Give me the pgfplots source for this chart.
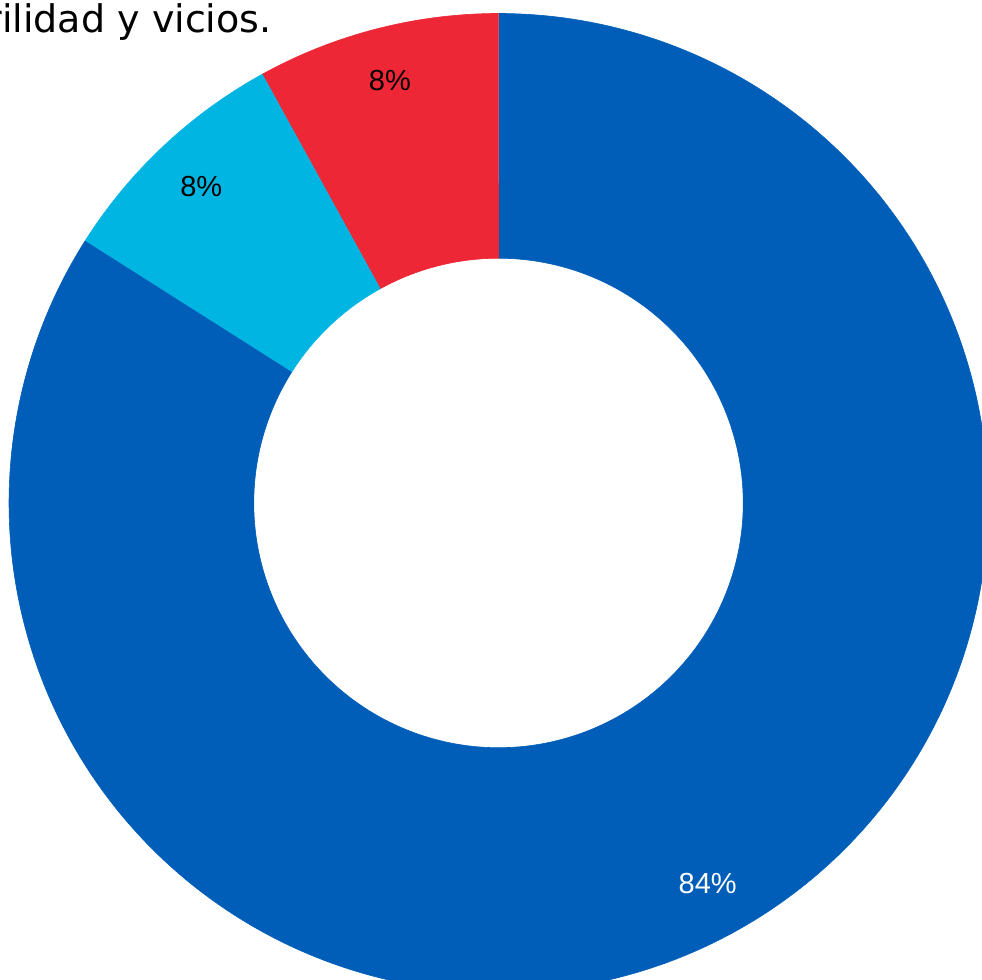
\documentclass[border=0pt]{standalone}
\usepackage{pgfplots}
\pgfplotsset{compat=1.18}
\usepackage{fontspec}
\setmainfont{Liberation Sans}
\newfontfamily\titlefont{DejaVu Sans}
\definecolor{cblue}{RGB}{0,94,184}
\definecolor{ccyan}{RGB}{0,181,226}
\definecolor{cred}{RGB}{238,39,55}
\begin{document}
\begin{tikzpicture}
% data (percent)
\pgfmathsetmacro{\vA}{84}
\pgfmathsetmacro{\vB}{8}
\pgfmathsetmacro{\vC}{8}
\pgfmathsetmacro{\tot}{\vA+\vB+\vC}
\pgfmathsetmacro{\aO}{90}
\pgfmathsetmacro{\aA}{\aO-360*(\vA/\tot)}
\pgfmathsetmacro{\aB}{\aA-360*(\vB/\tot)}
\pgfmathsetmacro{\aC}{\aB-360*(\vC/\tot)}
\pgfmathsetmacro{\mA}{(\aO+\aA)/2}
\pgfmathsetmacro{\mB}{(\aA+\aB)/2}
\pgfmathsetmacro{\mC}{(\aB+\aC)/2}
\def\rin{0.5}
\begin{axis}[at={(0,0)}, anchor=south west, scale only axis, hide axis,
  x=244.75pt, y=244.75pt,
  xmin=-1.0184, xmax=0.9877, ymin=-0.9745, ymax=1.0276, clip=true]
\addplot[fill=cblue, draw=cblue, line width=0.3pt, domain=0:2, samples=721, variable=\t]
  ({(1-(1-\rin)*(\t>1))*cos(\aO+(\aA-\aO)*min(1,1.03*min(\t,2-\t)))},
   {(1-(1-\rin)*(\t>1))*sin(\aO+(\aA-\aO)*min(1,1.03*min(\t,2-\t)))});
\addplot[fill=ccyan, draw=ccyan, line width=0.3pt, domain=0:2, samples=201, variable=\t]
  ({(1-(1-\rin)*(\t>1))*cos(\aA+(\aB-\aA)*min(1,1.03*min(\t,2-\t)))},
   {(1-(1-\rin)*(\t>1))*sin(\aA+(\aB-\aA)*min(1,1.03*min(\t,2-\t)))});
\addplot[fill=cred, draw=cred, line width=0.3pt, domain=0:2, samples=201, variable=\t]
  ({(1-(1-\rin)*(\t>1))*cos(\aB+(\aC-\aB)*min(1,1.03*min(\t,2-\t)))},
   {(1-(1-\rin)*(\t>1))*sin(\aB+(\aC-\aB)*min(1,1.03*min(\t,2-\t)))});
\node[text=white, font=\fontsize{14.5}{17}\selectfont] at (axis cs:{0.887*cos(\mA)},{0.887*sin(\mA)}) {84\%};
\node[text=black, font=\fontsize{14.5}{17}\selectfont] at (axis cs:{0.887*cos(\mB)},{0.887*sin(\mB)}) {8\%};
\node[text=black, font=\fontsize{14.5}{17}\selectfont] at (axis cs:{0.892*cos(\mC)},{0.892*sin(\mC)}) {8\%};
\node[anchor=base east, inner sep=0pt, text=black, font=\titlefont\fontsize{19}{22}\selectfont] at (axis cs:-0.4627,0.962) {rilidad y vicios.};
\end{axis}
\pgfresetboundingbox
\path (0,0) rectangle (491pt,490pt);
\end{tikzpicture}
\end{document}
